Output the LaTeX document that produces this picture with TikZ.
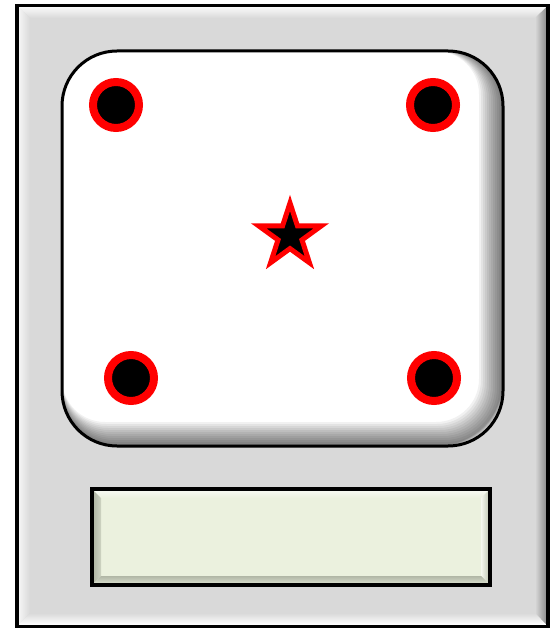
\documentclass[tikz,border=0pt]{standalone}
\usetikzlibrary{shapes.geometric}
\definecolor{panelgray}{HTML}{D9D9D9}
\definecolor{boxgreen}{HTML}{EBF1DE}
\definecolor{boxdark}{HTML}{8A9080}
\definecolor{pinred}{HTML}{FF0000}
\tikzset{
  pin/.style={circle, draw=pinred, line width=8pt, fill=black, minimum size=46pt, inner sep=0pt},
  mark star/.style={star, star points=5, star point ratio=2.618, draw=pinred, line width=5pt, fill=black, minimum size=66pt, inner sep=0pt, miter limit=10},
}
\begin{document}
\begin{tikzpicture}[x=1pt,y=-1pt]
\useasboundingbox (0,0) rectangle (551,628);
% outer case
\fill[panelgray] (17,5.5) rectangle (548,626.5);
% bevel bands
\shade[top color=white!85!panelgray, bottom color=panelgray] (18.5,7) -- (546.5,7) -- (535,18) -- (30,18) -- cycle;
\shade[left color=white!75!panelgray, right color=panelgray] (18.5,7) -- (30,18) -- (30,613) -- (18.5,625) -- cycle;
\shade[left color=panelgray, right color=black!45] (546.5,7) -- (546.5,625) -- (535,613) -- (535,18) -- cycle;
\shade[top color=panelgray, bottom color=white] (18.5,625) -- (30,613) -- (535,613) -- (546.5,625) -- cycle;
\draw[line width=3.5pt] (17,5.5) rectangle (548,626.5);
% inner white panel
\fill[white, rounded corners=55pt] (62,51) rectangle (503,446);
\begin{scope}
  \clip[rounded corners=55pt] (62,51) rectangle (503,446);
  \foreach \d in {1,2,...,12}{
    \draw[black, opacity=0.055, line width=2*\d pt, rounded corners=55pt]
      ([xshift=-\d pt, yshift=\d pt]62,51) rectangle ([xshift=-\d pt, yshift=\d pt]503,446);
  }
\end{scope}
\draw[line width=3pt, rounded corners=55pt] (62,51) rectangle (503,446);
% pins
\node[pin] (p1) at (116,105) {};
\node[pin] (p2) at (433,105) {};
\node[pin] (p3) at (131,378) {};
\node[pin] (p4) at (434,378) {};
% star
\node[mark star] (st) at (290,236) {};
% lower label box
\fill[boxgreen] (92,489) rectangle (490,585);
\shade[top color=white!60!boxgreen, bottom color=boxgreen] (93.5,490.5) -- (488.5,490.5) -- (481,498) -- (101,498) -- cycle;
\shade[left color=boxgreen!40!boxdark, right color=boxgreen!70!boxdark] (93.5,490.5) -- (101,498) -- (101,576) -- (93.5,583.5) -- cycle;
\shade[left color=white!50!boxgreen, right color=boxgreen!60!boxdark] (488.5,490.5) -- (488.5,583.5) -- (481,576) -- (481,498) -- cycle;
\shade[top color=boxgreen!40!boxdark, bottom color=boxgreen!80!boxdark] (93.5,583.5) -- (101,576) -- (481,576) -- (488.5,583.5) -- cycle;
\draw[line width=3.5pt] (92,489) rectangle (490,585);
\end{tikzpicture}
\end{document}
